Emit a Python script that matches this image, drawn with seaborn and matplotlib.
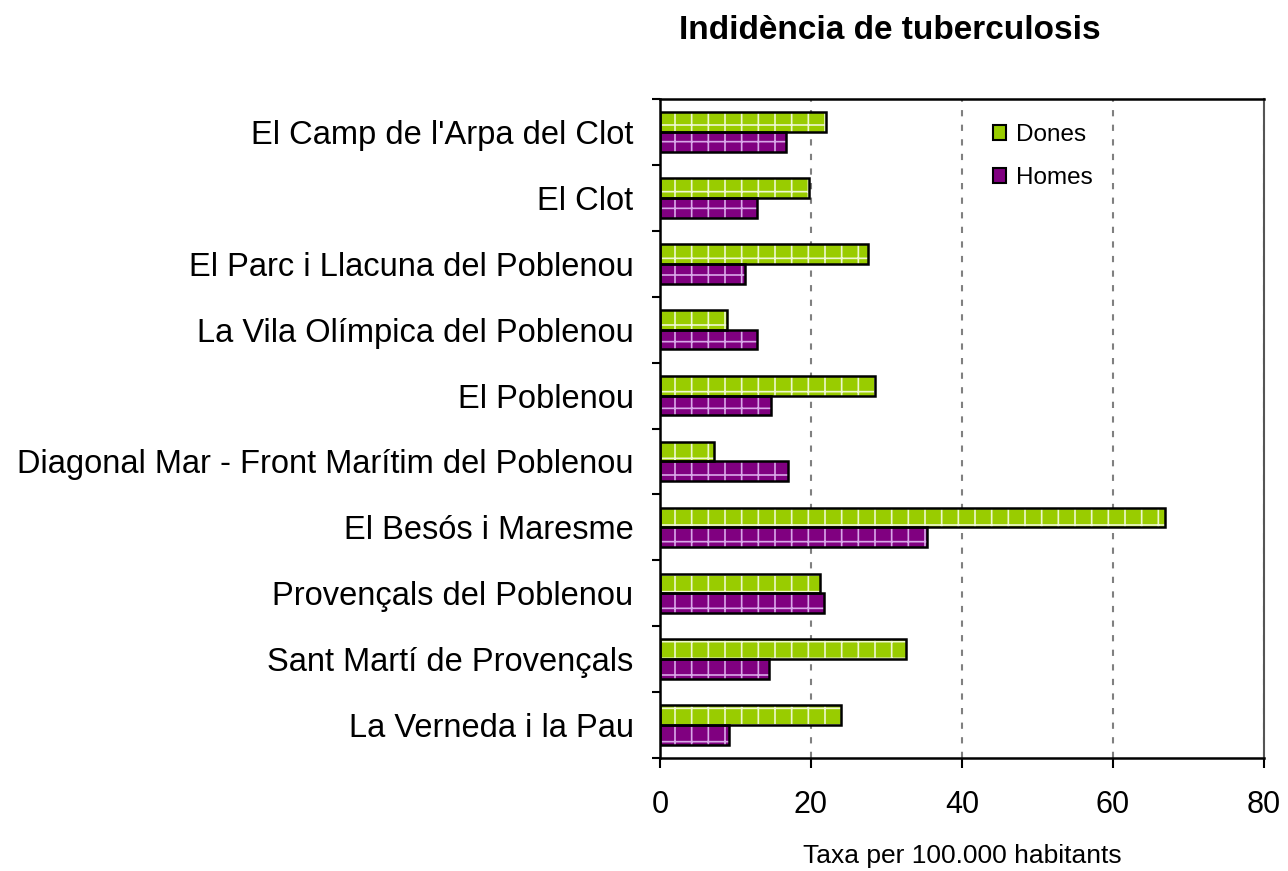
import numpy as np
import pandas as pd
import seaborn as sns
from matplotlib import pyplot as plt
from matplotlib.patches import Patch, Rectangle

# Data
barris = ["El Camp de l'Arpa del Clot", "El Clot", "El Parc i Llacuna del Poblenou",
          "La Vila Olímpica del Poblenou", "El Poblenou",
          "Diagonal Mar - Front Marítim del Poblenou", "El Besós i Maresme",
          "Provençals del Poblenou", "Sant Martí de Provençals", "La Verneda i la Pau"]
dones = [22.0, 19.7, 27.5, 8.9, 28.5, 7.2, 66.9, 21.2, 32.6, 24.0]
homes = [16.7, 12.8, 11.3, 12.8, 14.7, 17.0, 35.4, 21.7, 14.4, 9.1]
x_ticks = [0, 20, 40, 60, 80]

df = pd.DataFrame({'Barri': barris * 2,
                   'Sexe': ['Dones'] * len(barris) + ['Homes'] * len(barris),
                   'Taxa': dones + homes})

sns.set_style('white')
plt.rcParams['font.family'] = ['Liberation Sans', 'DejaVu Sans']
plt.rcParams['hatch.linewidth'] = 1.2
plt.rcParams['text.color'] = 'black'
plt.rcParams['xtick.color'] = 'black'
plt.rcParams['ytick.color'] = 'black'

colors = {'Dones': '#99CC00', 'Homes': '#800080'}
hatch_colors = {'Dones': '#EEF7D0', 'Homes': '#D9A8E8'}

fig = plt.figure(figsize=(12.88, 8.71), dpi=100)
ax = fig.add_axes([0.5124, 0.1297, 0.469, 0.7566])

sns.barplot(data=df, x='Taxa', y='Barri', hue='Sexe', palette=colors,
            orient='h', width=0.6, saturation=1, legend=False, ax=ax)

# hatch in light colour, then a black outline on top
for container, sexe in zip(ax.containers, ['Dones', 'Homes']):
    for bar in container:
        bar.set_hatch('+')
        bar.set_edgecolor(hatch_colors[sexe])
        bar.set_linewidth(0)
        ax.add_patch(Rectangle(bar.get_xy(), bar.get_width(), bar.get_height(),
                               fill=False, edgecolor='black', linewidth=1.8, zorder=3))

ax.set_xlim(0, 80)
ax.set_ylim(len(barris) - 0.5, -0.5)
ax.set_xticks(x_ticks)
ax.set_xlabel('')
ax.set_ylabel('')
ax.tick_params(axis='x', labelsize=22, length=7, width=1.5, direction='out',
               bottom=True, pad=16)
ax.tick_params(axis='y', which='major', labelsize=23.5, length=0, pad=19)
ax.set_yticks(np.arange(len(barris) + 1) - 0.5, minor=True)
ax.tick_params(axis='y', which='minor', length=6, width=1.5, direction='out', left=True)

ax.xaxis.grid(True, color='#808080', linestyle=(0, (3, 4)), linewidth=1.5)
ax.set_axisbelow(True)
for side in ['left', 'bottom', 'top']:
    ax.spines[side].set_color('black')
    ax.spines[side].set_linewidth(1.8)
ax.spines['right'].set_color('#555555')
ax.spines['right'].set_linewidth(1.5)

handles = [Patch(facecolor=colors[s], edgecolor='black', linewidth=1.5) for s in ['Dones', 'Homes']]
ax.legend(handles, ['Dones', 'Homes'], loc='upper left', bbox_to_anchor=(0.515, 0.995),
          frameon=False, fontsize=17.5, handlelength=0.55, handleheight=0.55,
          handletextpad=0.4, labelspacing=0.85)

fig.text(0.691, 0.965, 'Indidència de tuberculosis', ha='center', va='center',
         fontsize=24, fontweight='bold')
fig.text(0.747, 0.003, 'Taxa per 100.000 habitants', ha='center', va='bottom', fontsize=19)

fig.savefig('out.png', dpi=100)
